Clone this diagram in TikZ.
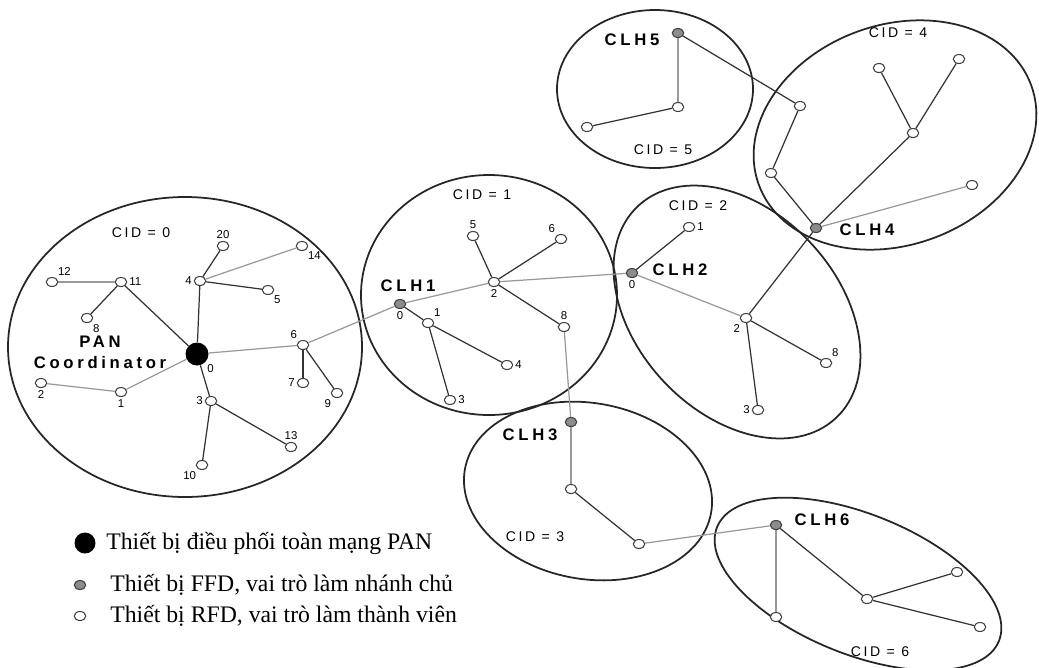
\documentclass[tikz,border=0pt]{standalone}
\usepackage{fontspec}
\setmainfont{Liberation Serif}
\newfontfamily\clhfont[LetterSpace=22]{Liberation Sans}
\newfontfamily\cidfont[LetterSpace=18]{Liberation Sans}
\newfontfamily\numfont{Liberation Sans}
\usetikzlibrary{shapes.geometric}

\begin{document}
\begin{tikzpicture}[x=0.2mm,y=-0.2mm,
		rfd/.style={ellipse,draw=black!75,fill=white,line width=0.6pt,minimum width=2.3mm,minimum height=1.8mm,inner sep=0pt},
		ffd/.style={rfd,fill=black!45},
		pan/.style={circle,fill=black,minimum size=4.6mm,inner sep=0pt},
		cluster/.style={draw=black!85,line width=1pt},
		link/.style={draw=black!80,line width=0.7pt},
		glink/.style={draw=black!40,line width=0.7pt},
		num/.style={font=\numfont\fontsize{6.5}{7}\selectfont,inner sep=1pt},
		clh/.style={font=\clhfont\bfseries\fontsize{9.5}{12}\selectfont,inner sep=0pt},
		cid/.style={font=\cidfont\fontsize{8}{9}\selectfont,inner sep=0pt},
		legend/.style={anchor=west,font=\fontsize{13.5}{15}\selectfont,inner sep=0pt}]
	\useasboundingbox (0,0) rectangle (1039,667);
	% Cum CID = 0
	\draw[cluster] (185,347) ellipse [x radius=177, y radius=150];
	\node[cid] (cid0) at (141,233) {CID = 0};
	\node[clh,align=center] (pantxt) at (100,352) {PAN\\Coordinator};
	\node[pan,label={[num]below right:0}] (c0) at (197,354) {};
	\node[rfd,label={[num]right:11}] (n11) at (121,282) {};
	\node[rfd,label={[num]above right:12}] (n12) at (52,282) {};
	\node[rfd,label={[num]below right:8}] (n8) at (87,318) {};
	\node[rfd,label={[num]left:4}] (n4) at (200,281) {};
	\node[rfd,label={[num]above:20}] (n20) at (223,246) {};
	\node[rfd,label={[num]below right:14}] (n14) at (302,246) {};
	\node[rfd,label={[num]below right:5}] (n5) at (268,290) {};
	\node[rfd,label={[num]above left:6}] (n6) at (303,345) {};
	\node[rfd,label={[num]left:7}] (n7) at (303,383) {};
	\node[rfd,label={[num]below left:9}] (n9) at (337,393) {};
	\node[rfd,label={[num]below:1}] (n1) at (121,392) {};
	\node[rfd,label={[num]below:2}] (n2) at (41,383) {};
	\node[rfd,label={[num]left:3}] (n3) at (211,401) {};
	\node[rfd,label={[num]above:13}] (n13) at (291,447) {};
	\node[rfd,label={[num]below left:10}] (n10) at (202,465) {};
	\draw[link] (c0) -- (n11);
	\draw[glink] (n11) -- (n12);
	\draw[link] (n11) -- (n8);
	\draw[link] (c0) -- (n4);
	\draw[link] (n4) -- (n20);
	\draw[glink] (n4) -- (n14);
	\draw[link] (n4) -- (n5);
	\draw[glink] (c0) -- (n6);
	\draw[link] (n6) -- (n7);
	\draw[link] (n6) -- (n9);
	\draw[glink] (c0) -- (n1);
	\draw[glink] (n1) -- (n2);
	\draw[link] (c0) -- (n3);
	\draw[link] (n3) -- (n10);
	\draw[link] (n3) -- (n13);
	% Cum CID = 1
	\draw[cluster] (489,295) ellipse [x radius=128, y radius=120];
	\node[cid] (cid1) at (482,195) {CID = 1};
	\node[ffd,label={[num]below:0}] (h1) at (400,304) {};
	\node[clh] (t1) at (408,286) {CLH1};
	\node[rfd,label={[num]above right:1}] (a1) at (428,323) {};
	\node[rfd,label={[num]right:4}] (a4) at (507,365) {};
	\node[rfd,label={[num]right:3}] (a3) at (450,400) {};
	\node[rfd,label={[num]below:2}] (a2) at (494,282) {};
	\node[rfd,label={[num]above:5}] (a5) at (473,236) {};
	\node[rfd,label={[num]above left:6}] (a6) at (561,239) {};
	\node[rfd,label={[num]above:8}] (a8) at (564,327) {};
	\draw[glink] (n6) -- (h1);
	\draw[link] (h1) -- (a1);
	\draw[link] (a1) -- (a4);
	\draw[link] (a1) -- (a3);
	\draw[glink] (h1) -- (a2);
	\draw[link] (a2) -- (a5);
	\draw[link] (a2) -- (a6);
	\draw[link] (a2) -- (a8);
	% Cum CID = 2
	\draw[cluster,rotate around={-47:(737,312)}] (737,312) ellipse [x radius=145, y radius=101];
	\node[cid] (cid2) at (698,206) {CID = 2};
	\node[ffd,label={[num]below:0}] (h2) at (632,273) {};
	\node[clh] (t2) at (680,270) {CLH2};
	\node[rfd,label={[num]right:1}] (b1) at (689,227) {};
	\node[rfd,label={[num]below left:2}] (b2) at (746,318) {};
	\node[rfd,label={[num]above right:8}] (b8) at (826,363) {};
	\node[rfd,label={[num]left:3}] (b3) at (758,410) {};
	\draw[glink] (a2) -- (h2);
	\draw[link] (h2) -- (b1);
	\draw[glink] (h2) -- (b2);
	\draw[link] (b2) -- (b8);
	\draw[link] (b2) -- (b3);
	% Cum CID = 4
	\draw[cluster,rotate around={20:(895,135)}] (895,135) ellipse [x radius=145, y radius=110];
	\node[cid] (cid4) at (898,33) {CID = 4};
	\node[ffd] (h4) at (816,228) {};
	\node[clh] (t4) at (867,230) {CLH4};
	\node[rfd] (d1) at (800,106) {};
	\node[rfd] (d2) at (771,173) {};
	\node[rfd] (d3) at (913,133) {};
	\node[rfd] (d4) at (879,68) {};
	\node[rfd] (d5) at (959,59) {};
	\node[rfd] (d6) at (972,185) {};
	\draw[link] (b2) -- (h4);
	\draw[link] (h4) -- (d2);
	\draw[link] (d2) -- (d1);
	\draw[link] (h4) -- (d3);
	\draw[link] (d3) -- (d4);
	\draw[link] (d3) -- (d5);
	\draw[glink] (h4) -- (d6);
	% Cum CID = 5
	\draw[cluster] (655,89) ellipse [x radius=98, y radius=79];
	\node[cid] (cid5) at (663,150) {CID = 5};
	\node[ffd] (h5) at (678,33) {};
	\node[clh] (t5) at (632,40) {CLH5};
	\node[rfd] (e1) at (678,107) {};
	\node[rfd] (e2) at (587,127) {};
	\draw[glink] (h5) -- (e1);
	\draw[link] (e1) -- (e2);
	\draw[link] (h5) -- (d1);
	% Cum CID = 3
	\draw[cluster,rotate around={-10:(588,491)}] (588,491) ellipse [x radius=125, y radius=88];
	\node[cid] (cid3) at (535,537) {CID = 3};
	\node[ffd] (h3) at (571,422) {};
	\node[clh] (t3) at (530,435) {CLH3};
	\node[rfd] (f1) at (571,489) {};
	\node[rfd] (f2) at (639,544) {};
	\draw[glink] (a8) -- (h3);
	\draw[glink] (h3) -- (f1);
	\draw[link] (f1) -- (f2);
	% Cum CID = 6
	\draw[cluster,rotate around={-22:(858,584)}] (858,584) ellipse [x radius=152, y radius=70];
	\node[cid] (cid6) at (880,652) {CID = 6};
	\node[ffd] (h6) at (776,525) {};
	\node[clh] (t6) at (822,520) {CLH6};
	\node[rfd] (g1) at (776,617) {};
	\node[rfd] (g2) at (867,599) {};
	\node[rfd] (g3) at (957,572) {};
	\node[rfd] (g4) at (980,627) {};
	\draw[glink] (f2) -- (h6);
	\draw[glink] (h6) -- (g1);
	\draw[link] (h6) -- (g2);
	\draw[link] (g2) -- (g3);
	\draw[link] (g2) -- (g4);
	% Chu thich
	\node[pan,minimum size=4.2mm] (k1) at (85,543) {};
	\node[legend] (k1t) at (106,543) {Thiết bị điều phối toàn mạng PAN};
	\node[ffd] (k2) at (80,585) {};
	\node[legend] (k2t) at (110,585) {Thiết bị FFD, vai trò làm nhánh chủ};
	\node[rfd] (k3) at (80,616) {};
	\node[legend] (k3t) at (110,616) {Thiết bị RFD, vai trò làm thành viên};
\end{tikzpicture}
\end{document}
